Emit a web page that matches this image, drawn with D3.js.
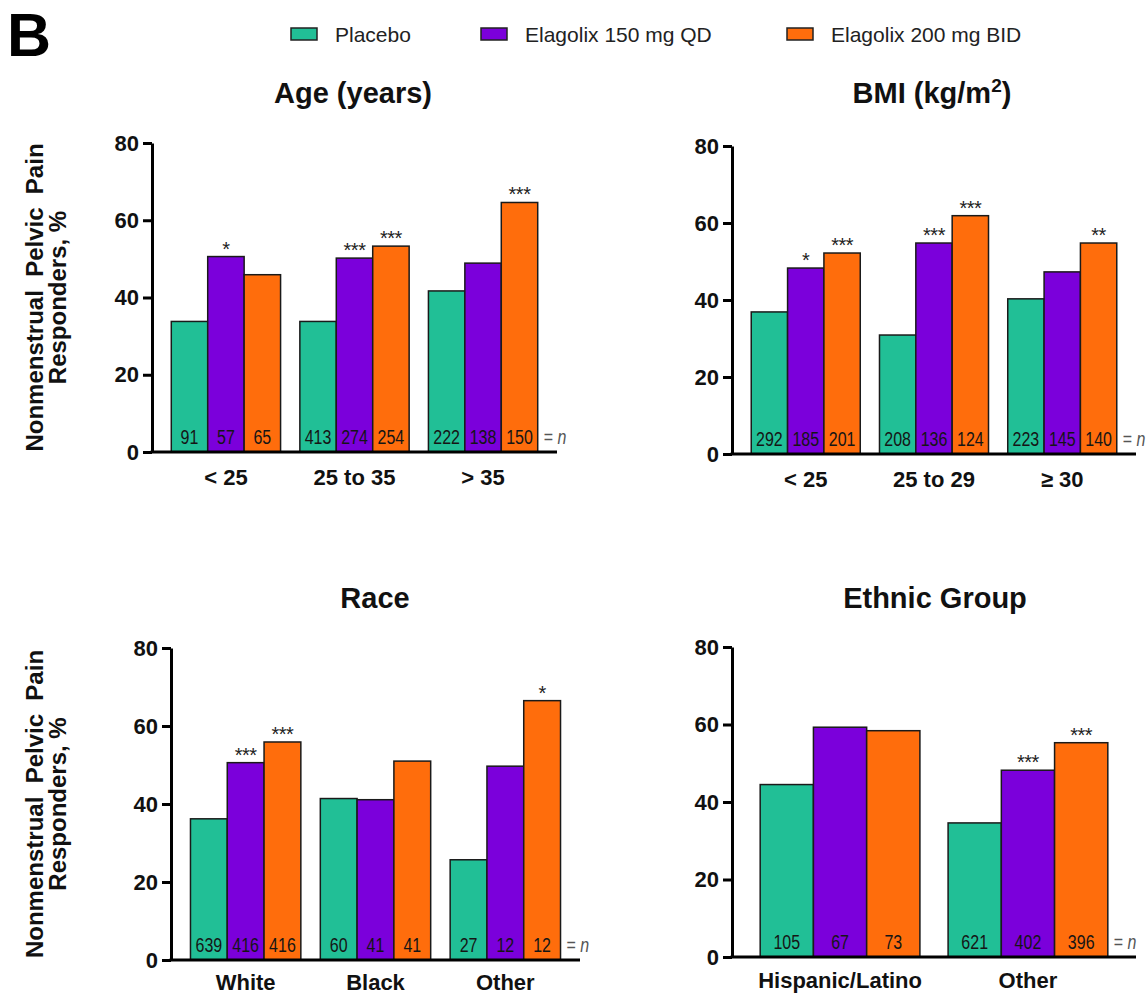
<!DOCTYPE html>
<html>
<head>
<meta charset="utf-8">
<script src="https://cdn.jsdelivr.net/npm/d3@7"></script>
<style>
  html, body { margin: 0; padding: 0; background: #fff; }
  svg { display: block; font-family: "Liberation Sans", Arial, Helvetica, sans-serif; }
</style>
</head>
<body>
<svg id="chart" width="1146" height="996"></svg>
<script>
// ---- data ----
const seriesNames = ["Placebo", "Elagolix 150 mg QD", "Elagolix 200 mg BID"];
const seriesColors = ["#21BF96", "#7B00DB", "#FF6D0C"];
const yTicks = [0, 20, 40, 60, 80];

const ageCategories = ["< 25", "25 to 35", "> 35"];
const agePlacebo = [33.8, 33.8, 41.7];
const age150 = [50.6, 50.2, 48.9];
const age200 = [45.9, 53.3, 64.6];
const ageNPlacebo = [91, 413, 222];
const ageN150 = [57, 274, 138];
const ageN200 = [65, 254, 150];
const ageSig150 = ["*", "***", ""];
const ageSig200 = ["", "***", "***"];

const bmiCategories = ["< 25", "25 to 29", "\u2265 30"];
const bmiPlacebo = [36.9, 30.9, 40.3];
const bmi150 = [48.3, 54.8, 47.3];
const bmi200 = [52.2, 61.9, 54.8];
const bmiNPlacebo = [292, 208, 223];
const bmiN150 = [185, 136, 145];
const bmiN200 = [201, 124, 140];
const bmiSig150 = ["*", "***", ""];
const bmiSig200 = ["***", "***", "**"];

const raceCategories = ["White", "Black", "Other"];
const racePlacebo = [36.2, 41.4, 25.7];
const race150 = [50.6, 41.1, 49.7];
const race200 = [55.9, 51.0, 66.5];
const raceNPlacebo = [639, 60, 27];
const raceN150 = [416, 41, 12];
const raceN200 = [416, 41, 12];
const raceSig150 = ["***", "", ""];
const raceSig200 = ["***", "", "*"];

const ethCategories = ["Hispanic/Latino", "Other"];
const ethPlacebo = [44.5, 34.6];
const eth150 = [59.3, 48.2];
const eth200 = [58.4, 55.3];
const ethNPlacebo = [105, 621];
const ethN150 = [67, 402];
const ethN200 = [73, 396];
const ethSig150 = ["", "***"];
const ethSig200 = ["", "***"];

// ---- panels: data + frame geometry ----
const panels = [
  { title: "Age (years)", cats: ageCategories,
    values: [agePlacebo, age150, age200], ns: [ageNPlacebo, ageN150, ageN200], sig: [null, ageSig150, ageSig200],
    frame: { x0: 152, x1: 557, yTop: 143, yBot: 452, titleX: 353, titleY: 103, labelPad: 17, showYLabel: true } },
  { title: "BMI", cats: bmiCategories,
    values: [bmiPlacebo, bmi150, bmi200], ns: [bmiNPlacebo, bmiN150, bmiN200], sig: [null, bmiSig150, bmiSig200],
    frame: { x0: 732, x1: 1136, yTop: 146, yBot: 454, titleX: 932, titleY: 103, labelPad: 17, showYLabel: false } },
  { title: "Race", cats: raceCategories,
    values: [racePlacebo, race150, race200], ns: [raceNPlacebo, raceN150, raceN200], sig: [null, raceSig150, raceSig200],
    frame: { x0: 171, x1: 580, yTop: 648, yBot: 960, titleX: 375, titleY: 608, labelPad: 14, showYLabel: true } },
  { title: "Ethnic Group", cats: ethCategories,
    values: [ethPlacebo, eth150, eth200], ns: [ethNPlacebo, ethN150, ethN200], sig: [null, ethSig150, ethSig200],
    frame: { x0: 732, x1: 1136, yTop: 647, yBot: 957, titleX: 935, titleY: 608, labelPad: 15, showYLabel: false } }
];

const svg = d3.select("#chart");
const FONT = '"Liberation Sans", Arial, Helvetica, sans-serif';

// panel letter
svg.append("text").attr("x", 7).attr("y", 56)
  .attr("font-size", 61).attr("font-weight", "bold").attr("fill", "#000").text("B");

// legend
const legendBoxX = [291, 481, 787];
const legend = svg.append("g").attr("class", "legend");
seriesNames.forEach((name, i) => {
  legend.append("rect").attr("x", legendBoxX[i]).attr("y", 28).attr("width", 26).attr("height", 12)
    .attr("fill", seriesColors[i]).attr("stroke", "#222").attr("stroke-width", 1.5);
  legend.append("text").attr("x", legendBoxX[i] + 44).attr("y", 42)
    .attr("font-size", 21).attr("fill", "#222").text(name);
});

panels.forEach(p => {
  const f = p.frame;
  const g = svg.append("g");

  const y = d3.scaleLinear().domain([0, 80]).range([f.yBot, f.yTop]);
  const x0 = d3.scaleBand().domain(p.cats).range([f.x0, f.x1]).paddingInner(0.15).paddingOuter(0.15);
  const x1 = d3.scaleBand().domain(d3.range(seriesNames.length)).range([0, x0.bandwidth()]).padding(0);

  // title
  const t = g.append("text").attr("x", f.titleX).attr("y", f.titleY).attr("text-anchor", "middle")
    .attr("font-size", 29).attr("font-weight", "bold").attr("fill", "#111");
  if (p.title === "BMI") {
    t.append("tspan").text("BMI (kg/m");
    t.append("tspan").attr("font-size", 19).attr("dy", -11).text("2");
    t.append("tspan").attr("dy", 11).text(")");
  } else {
    t.text(p.title);
  }

  // bars
  const rows = [];
  p.cats.forEach((c, ci) => {
    seriesNames.forEach((s, si) => {
      rows.push({ cat: c, si, v: p.values[si][ci], n: p.ns[si][ci], sig: p.sig[si] ? p.sig[si][ci] : "" });
    });
  });

  g.selectAll("rect.bar").data(rows).join("rect").attr("class", "bar")
    .attr("x", d => x0(d.cat) + x1(d.si))
    .attr("y", d => y(d.v))
    .attr("width", x1.bandwidth())
    .attr("height", d => y(0) - y(d.v))
    .attr("fill", d => seriesColors[d.si])
    .attr("stroke", "#1a1a1a").attr("stroke-width", 1.5);

  // n labels (condensed)
  g.selectAll("text.n").data(rows).join("text").attr("class", "n")
    .attr("transform", d => `translate(${x0(d.cat) + x1(d.si) + x1.bandwidth() / 2},${y(0) - 8}) scale(0.82,1)`)
    .attr("text-anchor", "middle").attr("font-size", 19.5).attr("fill", "#151515")
    .text(d => d.n);

  // significance marks
  g.selectAll("text.sig").data(rows.filter(d => d.sig)).join("text").attr("class", "sig")
    .attr("x", d => x0(d.cat) + x1(d.si) + x1.bandwidth() / 2)
    .attr("y", d => y(d.v) - 1)
    .attr("text-anchor", "middle").attr("font-size", 20).attr("fill", "#222")
    .attr("letter-spacing", -0.5)
    .text(d => d.sig);

  // "= n" marker
  const lastCat = p.cats[p.cats.length - 1];
  const eqX = x0(lastCat) + x0.bandwidth() + 6;
  const eq = g.append("text").attr("transform", `translate(${eqX},${y(0) - 8}) scale(0.82,1)`)
    .attr("font-size", 19.5).attr("fill", "#555");
  eq.append("tspan").text("= ");
  eq.append("tspan").attr("font-style", "italic").text("n");

  // y axis
  const yAxis = g.append("g").attr("transform", `translate(${f.x0},0)`)
    .call(d3.axisLeft(y).tickValues(yTicks).tickSize(9).tickPadding(4).tickSizeOuter(0));
  yAxis.select(".domain").attr("stroke", "#000").attr("stroke-width", 3);
  yAxis.selectAll(".tick line").attr("stroke", "#000").attr("stroke-width", 3);
  yAxis.selectAll(".tick text").attr("font-family", FONT).attr("font-size", 22)
    .attr("font-weight", "bold").attr("fill", "#111");

  // x axis
  const xAxis = g.append("g").attr("transform", `translate(0,${f.yBot})`)
    .call(d3.axisBottom(x0).tickSize(0).tickPadding(f.labelPad).tickSizeOuter(0));
  xAxis.select(".domain").attr("stroke", "#000").attr("stroke-width", 3)
    .attr("d", `M${f.x0 - 1.5},0H${f.x1}`);
  xAxis.selectAll(".tick text").attr("font-family", FONT).attr("font-size", 22)
    .attr("font-weight", "bold").attr("fill", "#111");

  // y label
  if (f.showYLabel) {
    const cy = (f.yTop + f.yBot) / 2;
    const yl = g.append("text").attr("transform", `translate(0,${cy}) rotate(-90)`)
      .attr("text-anchor", "middle").attr("font-size", 24).attr("font-weight", "bold").attr("fill", "#111");
    yl.append("tspan").attr("x", 0).attr("y", 43).text("Nonmenstrual\u00a0 Pelvic\u00a0 Pain");
    yl.append("tspan").attr("x", 0).attr("y", 66).text("Responders, %");
  }
});
</script>
</body>
</html>
